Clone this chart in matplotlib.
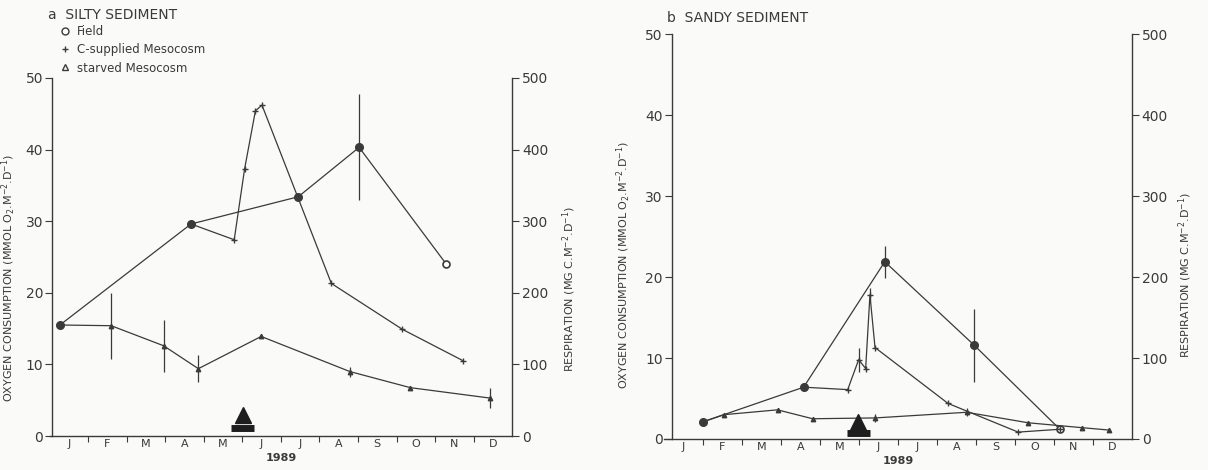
import matplotlib
matplotlib.use("Agg")
import matplotlib.pyplot as plt
from matplotlib.lines import Line2D

plt.rcParams['font.family'] = ['DejaVu Sans']
plt.rcParams['mathtext.default'] = 'regular'

months = ['J', 'F', 'M', 'A', 'M', 'J', 'J', 'A', 'S', 'O', 'N', 'D']

# x = months since 1 Jan 1989
# a - silty sediment
field_a_x = [0.27, 3.67, 6.45, 8.03, 10.29]
field_a_y = [15.5, 29.6, 33.4, 40.3, 24.0]
field_a_err = [0, 0, 0, 7.4, 0]

fed_a_x = [3.67, 4.79, 5.06, 5.34, 5.51, 7.31, 9.15, 10.73]
fed_a_y = [29.6, 27.4, 37.3, 45.4, 46.2, 21.3, 14.9, 10.5]

starved_a_x = [0.27, 1.60, 2.96, 3.86, 5.49, 7.79, 9.36, 11.42]
starved_a_y = [15.5, 15.4, 12.6, 9.4, 13.9, 9.0, 6.75, 5.3]
starved_a_err = [0, 4.6, 3.6, 1.9, 0, 0.7, 0, 1.4]

# b - sandy sediment
field_b_x = [0.99, 3.58, 5.66, 7.95, 10.15]
field_b_y = [2.1, 6.4, 21.9, 11.6, 1.2]
field_b_err = [0, 0, 2.0, 4.5, 0]

fed_b_x = [3.58, 4.71, 4.99, 5.17, 5.28, 5.41, 7.28, 9.08, 10.15]
fed_b_y = [6.4, 6.1, 9.8, 8.7, 17.8, 11.3, 4.4, 0.85, 1.2]
fed_b_err = [0, 0, 1.5, 0, 0.8, 0, 0, 0, 0]

starved_b_x = [0.99, 1.53, 2.91, 3.81, 5.41, 7.76, 9.34, 10.71, 11.42]
starved_b_y = [2.1, 3.0, 3.6, 2.5, 2.6, 3.3, 2.0, 1.4, 1.1]
starved_b_err = [0, 0, 0, 0, 0.5, 0.5, 0, 0, 0]

# starvation period (bar) with its start marked by a triangle
starve_a = [4.71, 5.31]
starve_b = [4.68, 5.27]

INK = '#3a3a3a'
BG = '#fafaf8'


def draw_panel(ax, field, fed, starved, starve, spine_x, tri_y, bar_y):
    fx, fy, ferr = field
    cx, cy, cerr = fed
    sx, sy, serr = starved

    # field
    ax.plot(fx, fy, color=INK, lw=0.9)
    ax.errorbar(fx, fy, yerr=ferr, fmt='none', ecolor=INK, elinewidth=0.9, capsize=0)
    ax.plot(fx[:-1], fy[:-1], 'o', color=INK, ms=5.5)
    ax.plot(fx[-1:], fy[-1:], 'o', mfc='white', mec=INK, mew=1.2, ms=5)

    # C-supplied mesocosm
    ax.plot(cx, cy, color=INK, lw=0.9, marker='+', ms=4, mew=1)
    if cerr is not None:
        ax.errorbar(cx, cy, yerr=cerr, fmt='none', ecolor=INK, elinewidth=0.9, capsize=0)

    # starved mesocosm
    ax.plot(sx, sy, color=INK, lw=0.9, marker='^', ms=3.2)
    ax.errorbar(sx, sy, yerr=serr, fmt='none', ecolor=INK, elinewidth=0.9, capsize=0)

    # starvation marker
    ax.plot([sum(starve) / 2], [tri_y], marker='^', color='#1e1e1e', ms=12, clip_on=False)
    ax.plot(starve, [bar_y, bar_y], color='#1e1e1e', lw=5, solid_capstyle='butt', clip_on=False)

    ax.set_xlim(0, 12)
    ax.set_ylim(0, 50)
    ax.spines['top'].set_visible(False)
    ax.spines['right'].set_visible(False)
    ax.spines['left'].set_position(('data', spine_x))
    for s in ('left', 'bottom'):
        ax.spines[s].set_color(INK)
        ax.spines[s].set_linewidth(1.0)

    ax.set_xticks(range(1, 12))
    ax.set_xticklabels([])
    ax.set_xticks([m + 0.5 for m in range(12)], minor=True)
    ax.set_xticklabels(months, minor=True)
    ax.tick_params(axis='x', which='major', direction='out', length=4, color=INK)
    ax.tick_params(axis='x', which='minor', length=0, pad=2, labelsize=8, labelcolor=INK)
    ax.set_yticks(range(0, 51, 10))
    ax.tick_params(axis='y', direction='out', length=5, pad=1.5, labelsize=10,
                   color=INK, labelcolor=INK)
    ax.set_xlabel('1989', fontsize=8, fontweight='bold', color=INK, labelpad=3)
    ax.set_ylabel('OXYGEN CONSUMPTION (MMOL O$_2$.M$^{-2}$.D$^{-1}$)',
                  fontsize=8, color=INK)
    ax.patch.set_alpha(0)

    ax2 = ax.twinx()
    ax2.set_ylim(0, 500)
    ax2.set_yticks(range(0, 501, 100))
    for s in ('left', 'top', 'bottom'):
        ax2.spines[s].set_visible(False)
    ax2.spines['right'].set_color(INK)
    ax2.spines['right'].set_linewidth(1.0)
    ax2.tick_params(axis='y', direction='out', length=5, pad=2, labelsize=10,
                    color=INK, labelcolor=INK)
    ax2.set_ylabel('RESPIRATION (MG C.M$^{-2}$.D$^{-1}$)', fontsize=8, color=INK)
    return ax2


fig = plt.figure(figsize=(12.08, 4.70), dpi=100, facecolor=BG)

ax_a = fig.add_axes([0.041, 0.0723, 0.383, 0.762])
ax_a2 = draw_panel(ax_a, (field_a_x, field_a_y, field_a_err),
                   (fed_a_x, fed_a_y, None),
                   (starved_a_x, starved_a_y, starved_a_err),
                   starve_a, 0.065, 2.9, 1.17)
ax_a.yaxis.set_label_coords(-0.068, 0.44)
ax_a2.yaxis.set_label_coords(1.104, 0.41)

ax_b = fig.add_axes([0.5497, 0.066, 0.3874, 0.861])
ax_b2 = draw_panel(ax_b, (field_b_x, field_b_y, field_b_err),
                   (fed_b_x, fed_b_y, fed_b_err),
                   (starved_b_x, starved_b_y, starved_b_err),
                   starve_b, 0.2, 2.1, 0.7)
ax_b.yaxis.set_label_coords(-0.066, 0.43)
ax_b2.yaxis.set_label_coords(1.094, 0.405)

fig.text(48 / 1208, 1 - 15 / 470, 'a  SILTY SEDIMENT', fontsize=10, color=INK, va='center')
fig.text(667 / 1208, 1 - 18 / 470, 'b  SANDY SEDIMENT', fontsize=10, color=INK, va='center')

handles = [
    Line2D([], [], ls='none', marker='o', mfc='none', mec=INK, ms=5, mew=1),
    Line2D([], [], ls='none', marker='+', color=INK, ms=5, mew=1),
    Line2D([], [], ls='none', marker='^', mfc='none', mec=INK, ms=5, mew=1),
]
fig.legend(handles, ['Field', 'C-supplied Mesocosm', 'starved Mesocosm'],
           loc='upper left', bbox_to_anchor=(0.05, 1 - 25 / 470), frameon=False,
           fontsize=8.5, labelcolor=INK, handlelength=0.8, handletextpad=0.6,
           labelspacing=0.45, borderpad=0, borderaxespad=0)

fig.savefig('out.png', dpi=100, facecolor=BG)
